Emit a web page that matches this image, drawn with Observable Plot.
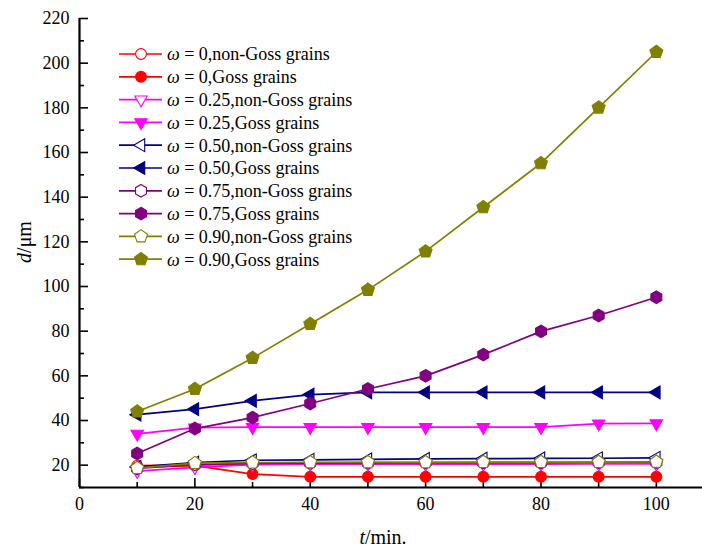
<!DOCTYPE html>
<html>
<head>
<meta charset="utf-8">
<script src="https://cdn.jsdelivr.net/npm/d3@7"></script>
<script src="https://cdn.jsdelivr.net/npm/@observablehq/plot@0.6"></script>
<style>
  html, body { margin: 0; padding: 0; background: #fff; }
  #chart { width: 702px; height: 552px; }
  #chart svg, #chart svg text { font-family: "Liberation Serif", "Times New Roman", serif !important; }
</style>
</head>
<body>
<div id="chart"></div>
<script>
// Annealing time (min)
const time = [10, 20, 30, 40, 50, 60, 70, 80, 90, 100];

// Mean grain size d (µm) for each ω, non-Goss and Goss grains
const omega000NonGoss = [19.8, 20.0, 20.6, 20.8, 20.8, 20.9, 20.9, 20.9, 21.0, 21.0];
const omega000Goss    = [19.0, 19.8, 16.0, 14.8, 14.8, 14.8, 14.8, 14.8, 14.8, 14.8];
const omega025NonGoss = [17.3, 19.0, 20.2, 20.4, 20.5, 20.5, 20.5, 20.5, 20.6, 20.6];
const omega025Goss    = [34.0, 36.8, 37.0, 37.0, 37.0, 37.0, 37.0, 37.0, 38.6, 38.7];
const omega050NonGoss = [19.2, 21.2, 22.2, 22.4, 22.6, 22.8, 22.9, 23.0, 23.1, 23.3];
const omega050Goss    = [42.6, 45.1, 48.8, 51.6, 52.6, 52.6, 52.6, 52.6, 52.6, 52.6];
const omega075NonGoss = [18.5, 20.3, 20.8, 21.0, 21.1, 21.2, 21.2, 21.2, 21.3, 21.3];
const omega075Goss    = [25.2, 36.4, 41.3, 47.6, 54.1, 60.0, 69.5, 79.9, 87.0, 95.2];
const omega090NonGoss = [18.7, 20.9, 21.2, 21.3, 21.3, 21.3, 21.4, 21.4, 21.4, 21.5];
const omega090Goss    = [44.0, 54.1, 68.0, 83.2, 98.5, 115.7, 135.5, 155.2, 180.1, 205.0];

// Series labels (ω value, grain type)
const omegaLabels = ["0", "0", "0.25", "0.25", "0.50", "0.50", "0.75", "0.75", "0.90", "0.90"];
const grainLabels = ["non-Goss grains", "Goss grains", "non-Goss grains", "Goss grains",
  "non-Goss grains", "Goss grains", "non-Goss grains", "Goss grains",
  "non-Goss grains", "Goss grains"];

// Axis ticks
const yMajorTicks = [20, 40, 60, 80, 100, 120, 140, 160, 180, 200, 220];
const yMinorTicks = [10, 30, 50, 70, 90, 110, 130, 150, 170, 190, 210];
const xMajorTicks = [0, 20, 40, 60, 80, 100];
const xMinorTicks = [10, 30, 50, 70, 90];

// Regular-polygon marker: n vertices, first vertex at angle a0 (degrees, 0 = up, clockwise)
function polygonSymbol(n, a0) {
  return {
    draw(context, size) {
      const r = Math.sqrt(size / Math.PI);
      for (let i = 0; i < n; ++i) {
        const a = (a0 + (360 / n) * i) * Math.PI / 180;
        const px = r * Math.sin(a), py = -r * Math.cos(a);
        if (i === 0) context.moveTo(px, py); else context.lineTo(px, py);
      }
      context.closePath();
    }
  };
}
const circleSym = {
  draw(context, size) {
    const r = Math.sqrt(size / Math.PI);
    context.moveTo(r, 0);
    context.arc(0, 0, r, 0, 2 * Math.PI);
  }
};
const downTriangle = polygonSymbol(3, 180);
const leftTriangle = polygonSymbol(3, 270);
const hexagonSym = polygonSymbol(6, 0);
const pentagonSym = polygonSymbol(5, 0);

const seriesValues = [omega000NonGoss, omega000Goss, omega025NonGoss, omega025Goss,
  omega050NonGoss, omega050Goss, omega075NonGoss, omega075Goss, omega090NonGoss, omega090Goss];
const colors = ["#ff0000", "#ff0000", "#ff00ff", "#ff00ff", "#000080", "#000080",
  "#800080", "#800080", "#808000", "#808000"];
const symbols = [circleSym, circleSym, downTriangle, downTriangle, leftTriangle, leftTriangle,
  hexagonSym, hexagonSym, pentagonSym, pentagonSym];
const radii = [5.4, 5.4, 7.2, 7.2, 7.4, 7.4, 6.3, 6.3, 6.8, 6.8];
const filled = [false, true, false, true, false, true, false, true, false, true];

const series = seriesValues.map((vals, i) => ({
  color: colors[i],
  symbol: symbols[i],
  r: radii[i],
  filled: filled[i],
  points: time.map((t, j) => ({t, d: vals[j]}))
}));

const FONT = "'Liberation Serif', 'Times New Roman', serif";
const W = 702, H = 552;
const M = {left: 79, right: 0, top: 18, bottom: 65};
const frameW = W - M.left - M.right;
const frameH = H - M.top - M.bottom;

const marks = [];
for (const s of series) {
  marks.push(Plot.line(s.points, {x: "t", y: "d", stroke: s.color, strokeWidth: 1.7}));
  marks.push(Plot.dot(s.points, {
    x: "t", y: "d", r: s.r, symbol: s.symbol,
    fill: s.filled ? s.color : "#ffffff",
    stroke: s.color, strokeWidth: 1.1
  }));
}

const plot = Plot.plot({
  width: W,
  height: H,
  marginLeft: M.left,
  marginRight: M.right,
  marginTop: M.top,
  marginBottom: M.bottom,
  style: {fontFamily: FONT, fontSize: "18px", color: "#000", background: "#fff"},
  x: {domain: [0, 108], label: null},
  y: {domain: [10, 220], label: null},
  marks: [
    // tick labels
    Plot.axisY(yMajorTicks, {tickSize: 0, tickPadding: 10, fontSize: 18, fontFamily: FONT}),
    Plot.axisX(xMajorTicks, {tickSize: 0, tickPadding: 10, fontSize: 18, fontFamily: FONT}),
    // inward tick marks
    Plot.tickY(yMajorTicks, {y: d => d, insetRight: frameW - 9, strokeWidth: 1.6}),
    Plot.tickY(yMinorTicks, {y: d => d, insetRight: frameW - 5, strokeWidth: 1.6}),
    Plot.tickX(xMajorTicks, {x: d => d, insetTop: frameH - 9, strokeWidth: 1.6}),
    Plot.tickX(xMinorTicks, {x: d => d, insetTop: frameH - 5, strokeWidth: 1.6}),
    ...marks,
    // axis lines
    Plot.ruleX([0], {strokeWidth: 2.2}),
    Plot.ruleY([10], {strokeWidth: 2.2})
  ]
});

const svg = d3.select(plot);

// Axis titles with italic variable names
const yTitle = svg.append("text")
  .attr("transform", "translate(31,242) rotate(-90)")
  .attr("text-anchor", "middle")
  .style("font-family", FONT).style("font-size", "20px").attr("fill", "#000");
yTitle.append("tspan").style("font-style", "italic").text("d");
yTitle.append("tspan").text("/μm");

const xTitle = svg.append("text")
  .attr("x", 383).attr("y", 544)
  .attr("text-anchor", "middle")
  .style("font-family", FONT).style("font-size", "20px").attr("fill", "#000");
xTitle.append("tspan").style("font-style", "italic").text("t");
xTitle.append("tspan").text("/min.");

// Legend
const legend = svg.append("g").attr("transform", "translate(119,54)");
series.forEach((s, i) => {
  const row = legend.append("g").attr("transform", `translate(0,${i * 22.8})`);
  row.append("line").attr("x1", 0).attr("x2", 43).attr("y1", 0).attr("y2", 0)
    .attr("stroke", s.color).attr("stroke-width", 1.7);
  row.append("path")
    .attr("transform", "translate(22,0)")
    .attr("d", d3.symbol().type(s.symbol).size(Math.PI * s.r * s.r)())
    .attr("fill", s.filled ? s.color : "#fff")
    .attr("stroke", s.color).attr("stroke-width", 1.1);
  const txt = row.append("text").attr("x", 48).attr("y", 0).attr("dy", "0.35em")
    .attr("text-anchor", "start")
    .style("font-family", FONT).style("font-size", "18px").attr("fill", "#000");
  txt.append("tspan").style("font-style", "italic").text("ω");
  txt.append("tspan").text(` = ${omegaLabels[i]},${grainLabels[i]}`);
});

document.getElementById("chart").appendChild(plot);
</script>
</body>
</html>
